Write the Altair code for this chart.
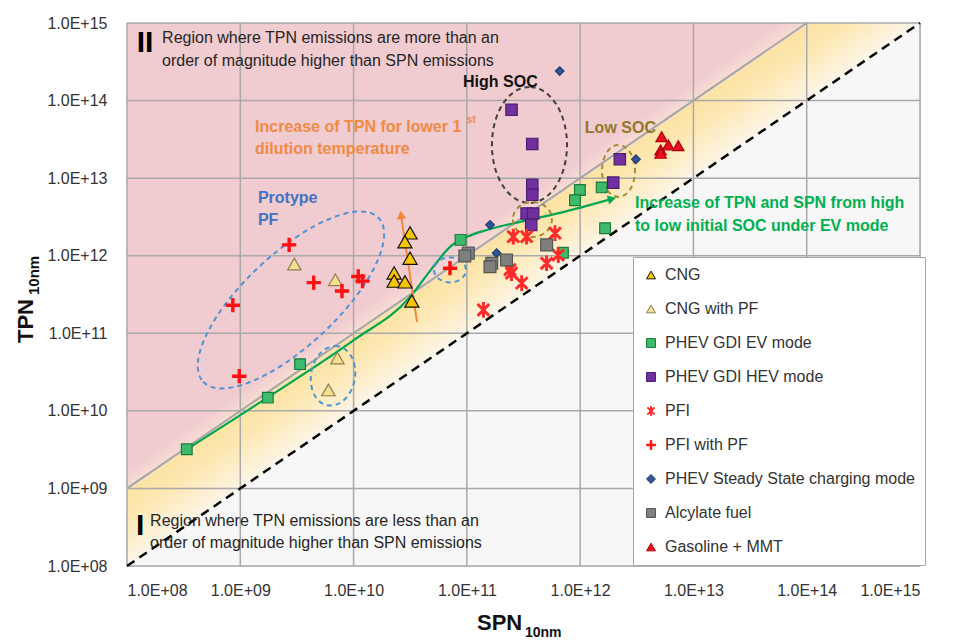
import math
import altair as alt
import pandas as pd

# ---------------- data ----------------
SERIES = ["CNG", "CNG with PF", "PHEV GDI EV mode", "PHEV GDI HEV mode", "PFI",
          "PFI with PF", "PHEV Steady State charging mode", "Alcylate fuel", "Gasoline + MMT"]

cng_spn = [3.15e10, 2.84e10, 3.15e10, 2.28e10, 2.28e10, 2.84e10, 3.27e10]
cng_tpn = [1.97e12, 1.51e12, 9.3e11, 6.0e11, 4.7e11, 4.6e11, 2.6e11]
cngpf_spn = [3.0e9, 6.9e9, 7.2e9, 6.0e9]
cngpf_tpn = [7.8e11, 4.9e11, 4.8e10, 1.86e10]
ev_spn = [3.37e8, 1.75e9, 3.37e9, 8.8e10, 7.05e11, 9.95e11, 9.0e11, 1.55e12, 1.66e12]
ev_tpn = [3.2e9, 1.48e10, 4.0e10, 1.6e12, 1.09e12, 7.05e12, 5.2e12, 7.6e12, 2.26e12]
hev_spn = [2.48e11, 3.78e11, 3.78e11, 3.78e11, 3.37e11, 3.85e11, 3.7e11, 2.24e12, 1.96e12]
hev_tpn = [7.6e13, 2.76e13, 8.2e12, 6.1e12, 3.5e12, 3.5e12, 2.5e12, 1.75e13, 8.75e12]
pfi_spn = [2.57e11, 3.37e11, 6.0e11, 2.4e11, 2.48e11, 3.05e11, 5.06e11, 6.4e11, 1.4e11]
pfi_tpn = [1.76e12, 1.76e12, 1.95e12, 6.6e11, 5.96e11, 4.43e11, 8.0e11, 1.02e12, 2.0e11]
pfipf_spn = [2.7e9, 4.45e9, 7.9e9, 1.2e10, 1.1e10, 8.6e8, 9.8e8, 7.1e10]
pfipf_tpn = [1.38e12, 4.5e11, 3.5e11, 4.7e11, 5.4e11, 2.3e11, 2.8e10, 6.9e11]
ss_spn = [6.6e11, 1.6e11, 1.83e11, 3.11e12]
ss_tpn = [2.4e14, 2.5e12, 1.08e12, 1.75e13]
alc_spn = [1.03e11, 9.6e10, 1.66e11, 1.6e11, 2.24e11, 5.06e11]
alc_tpn = [1.08e12, 9.9e11, 8.0e11, 7.2e11, 8.8e11, 1.38e12]
mmt_spn = [5.24e12, 6.0e12, 7.35e12, 5.13e12, 5.13e12]
mmt_tpn = [3.43e13, 2.68e13, 2.62e13, 2.31e13, 2.09e13]

SPN_LISTS = [cng_spn, cngpf_spn, ev_spn, hev_spn, pfi_spn, pfipf_spn, ss_spn, alc_spn, mmt_spn]
TPN_LISTS = [cng_tpn, cngpf_tpn, ev_tpn, hev_tpn, pfi_tpn, pfipf_tpn, ss_tpn, alc_tpn, mmt_tpn]

DECADES = [1e8, 1e9, 1e10, 1e11, 1e12, 1e13, 1e14, 1e15]

# green trend curve (EV mode, high -> low SOC)
trend_spn = [3.37e8, 1.72e9, 1.01e10, 3.15e10, 4.45e10, 5.45e10, 7.1e10, 1.0e11, 1.5e11, 2.94e11, 6.6e11, 1.91e12]
trend_tpn = [3.2e9, 1.47e10, 8.2e10, 2.94e11, 5.66e11, 8.3e11, 1.3e12, 1.75e12, 2.15e12, 2.73e12, 3.56e12, 5.4e12]
# orange arrow (lower 1st dilution temperature)
orange_spn = [3.63e10, 2.62e10]
orange_tpn = [1.4e11, 3.36e12]
# reference lines: TPN = 10 x SPN (grey) and TPN = SPN (dashed)
line10_spn = [1e8, 1e14]
line10_tpn = [1e9, 1e15]
line1_spn = [1e8, 1e15]
line1_tpn = [1e8, 1e15]

# dashed ellipses (centres)
ell_spn = [2.8e9, 6.58e9, 7.1e10, 3.57e11, 2.18e12, 3.79e11]
ell_tpn = [2.69e11, 2.83e10, 6.56e11, 2.68e13, 1.24e13, 2.94e12]

# ---------------- styles ----------------
def bar(x0, y0, x1, y1, t):
    dx, dy = x1 - x0, y1 - y0
    L = math.hypot(dx, dy)
    nx, ny = -dy / L * t, dx / L * t
    p = [(x0 + nx, y0 + ny), (x1 + nx, y1 + ny), (x1 - nx, y1 - ny), (x0 - nx, y0 - ny)]
    return "M" + "L".join(f"{a:.3f},{b:.3f}" for a, b in p) + "Z"

ASTER = bar(0, -1, 0, 1, 0.12) + bar(-0.75, -0.75, 0.75, 0.75, 0.12) + bar(-0.75, 0.75, 0.75, -0.75, 0.12)
PLUS = bar(-1, 0, 1, 0, 0.17) + bar(0, -1, 0, 1, 0.17)

FILLS = ["#f7c600", "#f3df8c", "#3dba6a", "#7030a0", "#ff2a2a", "#ff1010", "#2f5597", "#7f7f7f", "#e8101a"]
STROKES = ["#111111", "#8a7d55", "#1d7a3e", "#4a1f70", "#ff2a2a", "#ff1010", "#203c70", "#555555", "#b00010"]
SHAPES = ["triangle-up", "triangle-up", "square", "square", ASTER, PLUS, "diamond", "square", "triangle-up"]
SIZES = [200, 180, 115, 130, 210, 170, 75, 140, 130]

ELL_A = [120, 30, 16, 58, 26, 19.5]
ELL_B = [46, 22, 12.5, 37.5, 16.5, 17.5]
ELL_ANG = [317, 100, 0, 90, 90, 0]
ELL_COL = ["#4f93d2", "#4f93d2", "#4f93d2", "#404040", "#a88a30", "#a88a30"]

# background colour stops, by log10(TPN/SPN)
BG_STOPS = [(0.0, "#fbf5e8"), (0.3, "#fdeecb"), (0.65, "#fde6ae"), (0.95, "#fce2a0"),
            (1.0, "#f8dcd0"), (1.2, "#f1ccd0")]
BG_ABOVE = "#f0cbcf"
BG_BELOW = "#f7f7f7"

FONT = "Liberation Sans"

# ---------------- tables ----------------
rows = []
for name, xs, ys, sz in zip(SERIES, SPN_LISTS, TPN_LISTS, SIZES):
    for x, y in zip(xs, ys):
        rows.append({"series": name, "spn": x, "tpn": y, "sz": sz})
pts = pd.DataFrame(rows)


def hex2rgb(h):
    return [int(h[i:i + 2], 16) for i in (1, 3, 5)]


def stop_color(k):
    for (k0, c0), (k1, c1) in zip(BG_STOPS[:-1], BG_STOPS[1:]):
        if k0 <= k <= k1:
            f = (k - k0) / (k1 - k0)
            a, b = hex2rgb(c0), hex2rgb(c1)
            return "#" + "".join(f"{round(u + (v - u) * f):02x}" for u, v in zip(a, b))
    return BG_STOPS[-1][1]


bands = [(-8.0, 0.0, BG_BELOW), (1.2, 8.0, BG_ABOVE)]
step = 0.04
n = int(round(1.2 / step))
for i in range(n):
    lo, hi = i * step, (i + 1) * step
    bands.append((lo, hi + 0.002, stop_color((lo + hi) / 2)))
strip_rows = []
for i, (lo, hi, c) in enumerate(bands):
    for x in [1e8, 1e15]:
        strip_rows.append({"spn": x, "tpn": x * 10 ** lo, "tpn2": x * 10 ** hi, "col": c, "sid": i})
strips_df = pd.DataFrame(strip_rows)

ell_df = pd.DataFrame({
    "spn": ell_spn, "tpn": ell_tpn,
    "shape": [f"M-1,0A1,{b / a:.3f} 0 1,0 1,0A1,{b / a:.3f} 0 1,0 -1,0" for a, b in zip(ELL_A, ELL_B)],
    "sz": [(2 * a) ** 2 for a in ELL_A],
    "ang": ELL_ANG, "col": ELL_COL,
})

heads_df = pd.DataFrame({
    "spn": [trend_spn[-1], orange_spn[-1]],
    "tpn": [trend_tpn[-1], orange_tpn[-1]],
    "ang": [75, 351.5], "col": ["#00a651", "#f0883a"],
})

ORANGE = "#ef8a45"
texts_normal = pd.DataFrame({
    "t": ["Region where TPN emissions  are more than an", "order of magnitude  higher  than SPN emissions",
          "Region where TPN emissions  are less than an", "order of magnitude  higher  than SPN emissions"],
    "spn": [2.04e8, 2.04e8, 1.6e8, 1.6e8],
    "tpn": [6.41e14, 3.24e14, 3.82e8, 1.99e8],
    "col": ["#262626"] * 4, "fs": [16] * 4,
})
texts_bold = pd.DataFrame({
    "t": ["II", "I", "High SOC", "Low SOC", "Increase of TPN for lower 1", "st", "dilution temperature",
          "Protype", "PF", "Increase of TPN and SPN from high", "to low initial SOC under EV mode"],
    "spn": [1.22e8, 1.2e8, 9.25e10, 1.1e12, 1.35e9, 1.0e11, 1.35e9, 1.43e9, 1.43e9, 3.05e12, 3.05e12],
    "tpn": [5.52e14, 3.3e8, 1.74e14, 4.44e13, 4.57e13, 5.62e13, 2.38e13, 5.56e12, 2.89e12, 4.79e12, 2.42e12],
    "col": ["#000000", "#000000", "#111111", "#94782a", ORANGE, ORANGE, ORANGE,
            "#4472c4", "#4472c4", "#00b050", "#00b050"],
    "fs": [30, 30, 16, 16, 16, 10, 16, 16, 16, 16, 16],
})

# ---------------- encodings ----------------
LABEL_EXPR = "'1.0E+' + (round(log(datum.value)/LN10) < 10 ? '0' : '') + round(log(datum.value)/LN10)"
xscale = alt.Scale(type="log", domain=[1e8, 1e15], nice=False)
yscale = alt.Scale(type="log", domain=[1e8, 1e15], nice=False)
xaxis = alt.Axis(values=DECADES, labelExpr=LABEL_EXPR, grid=False, domain=False, ticks=False,
                 labelPadding=16, labelFontSize=16, labelColor="#333333", labelFont=FONT, title=None)
yaxis = alt.Axis(values=DECADES, labelExpr=LABEL_EXPR, grid=False, domain=False, ticks=False,
                 labelPadding=20, labelFontSize=16, labelColor="#333333", labelFont=FONT, title=None)
X = alt.X("spn:Q", scale=xscale, axis=xaxis)
Y = alt.Y("tpn:Q", scale=yscale, axis=yaxis)

strips = alt.Chart(strips_df).mark_area(clip=True, interpolate="linear").encode(
    x=X, y=alt.Y("tpn:Q", scale=yscale, axis=yaxis, stack=None), y2="tpn2:Q",
    color=alt.Color("col:N", scale=None), detail="sid:N")

vgrid = alt.Chart(pd.DataFrame({"spn": DECADES})).mark_rule(color="#a9a9a9", strokeWidth=1.5).encode(x=X)
hgrid = alt.Chart(pd.DataFrame({"tpn": DECADES})).mark_rule(color="#a9a9a9", strokeWidth=1.5).encode(y=Y)

gray_line = alt.Chart(pd.DataFrame({"spn": line10_spn, "tpn": line10_tpn})).mark_line(
    color="#a6a6a6", strokeWidth=2).encode(x=X, y=Y)
dash_line = alt.Chart(pd.DataFrame({"spn": line1_spn, "tpn": line1_tpn})).mark_line(
    color="#000000", strokeWidth=2.5, strokeDash=[9, 6]).encode(x=X, y=Y)

trend = alt.Chart(pd.DataFrame({"spn": trend_spn, "tpn": trend_tpn})).mark_line(
    color="#00a651", strokeWidth=2.2, interpolate="monotone").encode(x=X, y=Y)
orange = alt.Chart(pd.DataFrame({"spn": orange_spn, "tpn": orange_tpn})).mark_line(
    color="#f0883a", strokeWidth=2).encode(x=X, y=Y)

ellipses = alt.Chart(ell_df).mark_point(filled=False, strokeWidth=2, strokeDash=[5, 4], opacity=1).encode(
    x=X, y=Y, shape=alt.Shape("shape:N", scale=None), size=alt.Size("sz:Q", scale=None),
    angle=alt.Angle("ang:Q", scale=None), stroke=alt.Stroke("col:N", scale=None))

legend = alt.Legend(title=None, orient="none", legendX=506, legendY=234, padding=10,
                    fillColor="#ffffff", strokeColor="#a6a6a6", labelFont=FONT, labelFontSize=16,
                    labelColor="#333333", symbolSize=80, rowPadding=18, labelOffset=6,
                    labelLimit=400, symbolStrokeWidth=1, symbolOpacity=1)

points = alt.Chart(pts).mark_point(filled=True, opacity=1, strokeWidth=1.2).encode(
    x=X, y=Y,
    color=alt.Color("series:N", scale=alt.Scale(domain=SERIES, range=FILLS), legend=legend),
    shape=alt.Shape("series:N", scale=alt.Scale(domain=SERIES, range=SHAPES)),
    stroke=alt.Stroke("series:N", scale=alt.Scale(domain=SERIES, range=STROKES)),
    size=alt.Size("sz:Q", scale=None))

heads = alt.Chart(heads_df).mark_point(filled=True, shape="triangle-up", size=90, opacity=1).encode(
    x=X, y=Y, angle=alt.Angle("ang:Q", scale=None), color=alt.Color("col:N", scale=None))

t_norm = alt.Chart(texts_normal).mark_text(align="left", baseline="middle", font=FONT).encode(
    x=X, y=Y, text="t:N", color=alt.Color("col:N", scale=None), size=alt.Size("fs:Q", scale=None))
t_bold = alt.Chart(texts_bold).mark_text(align="left", baseline="middle", font=FONT, fontWeight="bold").encode(
    x=X, y=Y, text="t:N", color=alt.Color("col:N", scale=None), size=alt.Size("fs:Q", scale=None))

# axis titles with subscripts
xt = alt.Chart(pd.DataFrame({"t": ["SPN"]})).mark_text(
    align="left", baseline="alphabetic", font=FONT, fontWeight="bold", fontSize=22, color="#111111").encode(
    text="t:N", x=alt.value(350), y=alt.value(607))
xs = alt.Chart(pd.DataFrame({"t": ["10nm"]})).mark_text(
    align="left", baseline="alphabetic", font=FONT, fontWeight="bold", fontSize=14, color="#111111").encode(
    text="t:N", x=alt.value(398), y=alt.value(614))
yt = alt.Chart(pd.DataFrame({"t": ["TPN"]})).mark_text(
    align="left", baseline="alphabetic", font=FONT, fontWeight="bold", fontSize=22, color="#111111",
    angle=270).encode(text="t:N", x=alt.value(-94), y=alt.value(320))
ys = alt.Chart(pd.DataFrame({"t": ["10nm"]})).mark_text(
    align="left", baseline="alphabetic", font=FONT, fontWeight="bold", fontSize=15, color="#111111",
    angle=270).encode(text="t:N", x=alt.value(-88), y=alt.value(272))

chart = alt.layer(
    strips, vgrid, hgrid, gray_line, dash_line, trend, orange, ellipses, points, heads,
    t_norm, t_bold, xt, xs, yt, ys
).properties(
    width=793, height=543,
    padding={"left": 119, "top": 15, "right": 20, "bottom": 90},
    autosize=alt.AutoSizeParams(type="none"),
    background="#ffffff",
).configure_view(stroke=None).configure(font=FONT)

chart.save("out.html", embed_options={"renderer": "svg", "actions": False})
